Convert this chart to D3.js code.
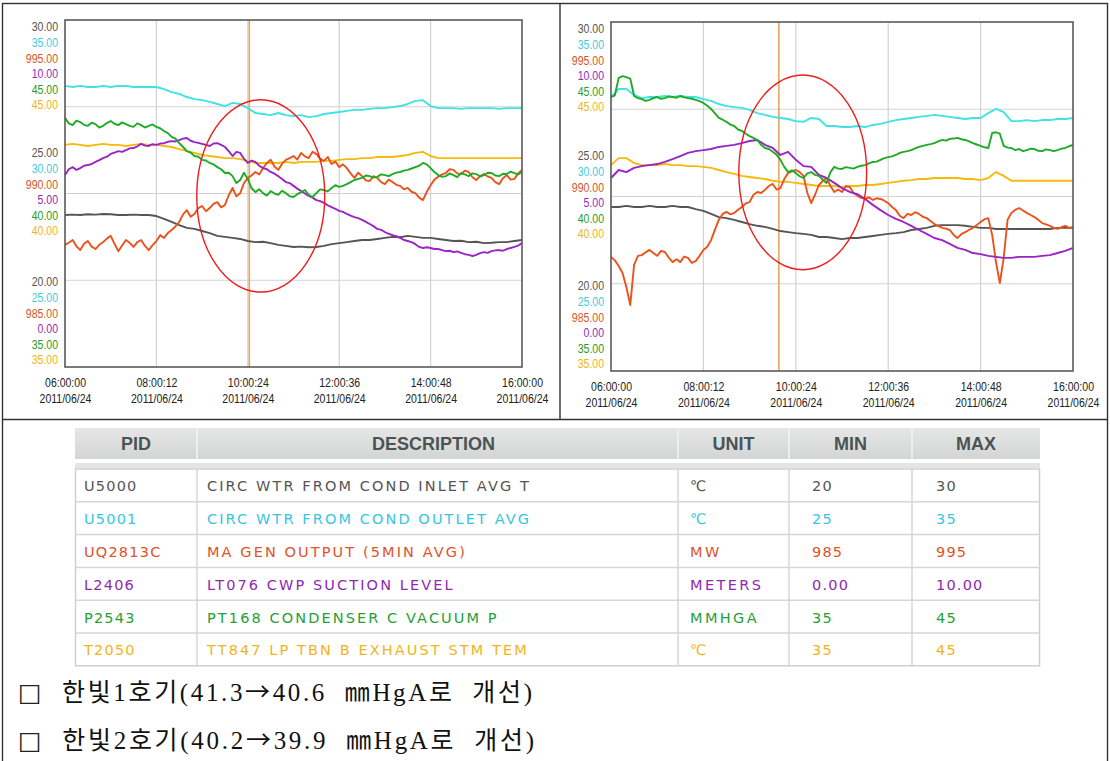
<!DOCTYPE html>
<html>
<head>
<meta charset="utf-8">
<script src="https://cdn.jsdelivr.net/npm/d3@7"></script>
<style>
  html, body { margin: 0; padding: 0; background: #fff; }
  svg { display: block; }
</style>
</head>
<body>
<svg id="fig" width="1110" height="761"></svg>
<script>
// ---------- tags shown in both trend charts ----------
const pids = ["U5000", "U5001", "UQ2813C", "L2406", "P2543", "T2050"];
const descriptions = [
  "CIRC WTR FROM COND INLET AVG T",
  "CIRC WTR FROM COND OUTLET AVG",
  "MA GEN OUTPUT (5MIN AVG)",
  "LT076 CWP SUCTION LEVEL",
  "PT168 CONDENSER C VACUUM P",
  "TT847 LP TBN B EXHAUST STM TEM"
];
const units = ["℃", "℃", "MW", "METERS", "MMHGA", "℃"];
const mins = [20, 25, 985, 0, 35, 35];
const maxs = [30, 35, 995, 10, 45, 45];

// ---------- time axis (minutes after 06:00; each series is evenly sampled over the span) ----------
const tickMinutes = [0, 120, 240, 360, 480, 600];
const timeLabels = ["06:00:00", "08:00:12", "10:00:24", "12:00:36", "14:00:48", "16:00:00"];
const dateLabel = "2011/06/24";
const spanMinutes = 600;

// ---------- unit 1 trend ----------
const u1_U5000 = [24.38,24.39,24.38,24.40,24.39,24.41,24.40,24.38,24.38,24.39,24.38,24.38,24.35,24.27,24.18,24.09,24.01,23.98,23.92,23.86,23.78,23.75,23.72,23.69,23.63,23.60,23.61,23.57,23.52,23.49,23.46,23.47,23.45,23.46,23.49,23.54,23.57,23.60,23.63,23.66,23.66,23.69,23.72,23.75,23.74,23.78,23.75,23.72,23.72,23.69,23.66,23.63,23.64,23.60,23.61,23.57,23.58,23.60,23.60,23.63,23.66];
const u1_U5001 = [33.10,33.07,33.10,33.07,33.07,33.10,33.07,33.10,33.10,33.07,33.07,33.07,33.07,33.01,32.92,32.87,32.78,32.72,32.69,32.64,32.58,32.52,32.61,32.58,32.46,32.32,32.29,32.26,32.32,32.26,32.23,32.26,32.20,32.23,32.29,32.32,32.35,32.38,32.41,32.41,32.44,32.46,32.46,32.49,32.52,32.58,32.67,32.69,32.52,32.46,32.46,32.46,32.44,32.46,32.46,32.46,32.46,32.44,32.46,32.46,32.46];
const u1_UQ2813C = [988.52,988.58,988.66,988.48,988.37,988.55,988.63,988.47,988.40,988.52,
  988.60,988.70,988.78,988.55,988.34,988.50,988.66,988.58,988.46,988.60,
  988.66,988.49,988.37,988.51,988.63,988.80,988.72,988.86,988.95,989.05,
  989.18,989.40,989.52,989.33,989.41,989.58,989.64,989.49,989.58,989.70,
  989.75,989.60,989.67,989.95,990.16,989.92,990.01,990.30,990.45,990.52,
  990.62,990.55,990.73,990.88,990.97,990.78,990.68,990.86,990.97,991.02,
  991.08,990.98,991.17,991.07,991.02,991.20,991.14,991.00,990.94,991.05,
  990.85,990.92,990.76,990.84,990.73,990.58,990.45,990.60,990.50,990.38,
  990.36,990.50,990.45,990.33,990.27,990.40,990.33,990.25,990.22,990.12,
  990.16,990.05,990.01,989.88,989.81,990.05,990.24,990.40,990.48,990.55,
  990.59,990.70,990.68,990.58,990.56,990.66,990.62,990.47,990.39,990.50,
  990.56,990.49,990.45,990.33,990.27,990.44,990.53,990.40,990.42,990.58,
  990.68];
const u1_L2406 = [5.53,5.70,5.76,5.68,5.73,5.80,5.82,5.85,5.91,5.96,
  6.02,6.06,6.14,6.18,6.22,6.20,6.25,6.30,6.31,6.36,
  6.43,6.38,6.37,6.42,6.40,6.44,6.45,6.49,6.51,6.50,
  6.54,6.58,6.60,6.52,6.48,6.46,6.43,6.40,6.37,6.44,
  6.45,6.40,6.34,6.22,6.08,6.20,6.17,6.00,5.88,5.95,
  5.91,5.80,5.73,5.70,5.62,5.57,5.50,5.42,5.33,5.30,
  5.22,5.14,5.07,5.00,4.93,4.88,4.81,4.78,4.73,4.66,
  4.61,4.56,4.50,4.47,4.41,4.36,4.32,4.29,4.24,4.18,
  4.12,4.06,3.98,3.95,3.89,3.84,3.80,3.77,3.72,3.66,
  3.63,3.60,3.54,3.46,3.43,3.45,3.43,3.40,3.40,3.37,
  3.34,3.35,3.31,3.33,3.29,3.25,3.23,3.20,3.23,3.28,
  3.31,3.29,3.34,3.36,3.37,3.35,3.40,3.43,3.46,3.50,
  3.57];
const u1_P2543 = [42.18,42.02,41.97,42.10,42.06,41.98,41.95,42.04,42.00,41.90,
  41.95,42.03,42.09,42.01,41.97,42.05,42.00,41.95,41.92,42.02,
  41.97,41.90,41.95,41.99,41.92,41.88,41.80,41.74,41.63,41.58,
  41.45,41.34,41.22,41.18,41.08,41.06,40.97,40.95,40.88,40.84,
  40.76,40.70,40.59,40.60,40.50,40.30,40.39,40.60,40.42,40.15,
  40.04,40.12,40.01,39.94,40.07,40.00,39.96,40.08,40.01,39.92,
  39.90,39.98,40.04,40.10,39.96,39.90,40.01,40.12,40.10,40.06,
  40.16,40.24,40.19,40.22,40.27,40.33,40.39,40.42,40.45,40.52,
  40.50,40.46,40.48,40.55,40.53,40.50,40.56,40.60,40.62,40.66,
  40.68,40.72,40.76,40.80,40.88,40.84,40.73,40.62,40.53,40.48,
  40.50,40.58,40.53,40.47,40.59,40.55,40.50,40.58,40.56,40.49,
  40.53,40.60,40.59,40.52,40.50,40.57,40.56,40.63,40.59,40.55,
  40.62];
const u1_T2050 = [41.40,41.43,41.40,41.37,41.40,41.43,41.40,41.40,41.37,41.40,41.43,41.40,41.40,41.37,41.34,41.28,41.22,41.17,41.11,41.08,41.05,41.02,41.02,40.99,40.94,40.88,40.88,40.88,40.88,40.91,40.88,40.91,40.91,40.91,40.94,40.94,40.97,40.99,40.99,41.02,41.02,41.05,41.05,41.05,41.08,41.11,41.17,41.20,41.08,41.02,41.02,41.02,41.02,41.02,41.02,41.02,41.02,41.02,41.02,41.02,41.02];

// ---------- unit 2 trend ----------
const u2_U5000 = [24.70,24.70,24.73,24.70,24.70,24.73,24.70,24.70,24.73,24.70,24.70,24.64,24.59,24.50,24.41,24.38,24.33,24.27,24.21,24.16,24.13,24.07,24.01,23.98,23.95,23.93,23.90,23.84,23.84,23.81,23.78,23.81,23.81,23.84,23.87,23.90,23.93,23.95,23.98,24.04,24.07,24.10,24.16,24.18,24.18,24.18,24.16,24.13,24.10,24.10,24.07,24.07,24.07,24.07,24.07,24.07,24.07,24.07,24.10,24.10,24.10];
const u2_U5001 = [32.85,33.08,33.08,32.91,32.82,32.85,32.85,32.88,32.85,32.88,32.85,32.85,32.79,32.74,32.65,32.59,32.56,32.54,32.48,32.39,32.34,32.28,32.25,32.22,32.16,32.14,32.25,32.22,32.02,32.02,31.99,31.99,32.02,31.99,32.05,32.08,32.14,32.19,32.22,32.25,32.28,32.31,32.34,32.31,32.28,32.25,32.22,32.25,32.25,32.39,32.51,32.42,32.16,32.16,32.19,32.16,32.19,32.19,32.22,32.22,32.25];
const u2_UQ2813C = [988.27,988.17,988.01,987.81,987.40,986.89,988.04,988.30,988.32,988.40,
  988.47,988.38,988.30,988.44,988.41,988.25,988.12,988.20,988.12,988.28,
  988.24,988.10,988.15,988.30,988.47,988.56,988.75,989.05,989.33,989.50,
  989.56,989.49,989.53,989.62,989.70,989.80,989.84,990.05,990.13,990.10,
  990.19,990.30,990.36,990.20,990.24,990.50,990.67,990.72,990.76,990.70,
  990.59,990.10,989.81,990.05,990.33,990.45,990.53,990.30,990.13,990.20,
  990.13,990.30,990.27,990.10,990.02,989.96,989.93,989.98,989.90,989.95,
  989.93,989.88,989.81,989.70,989.61,989.45,989.38,989.50,989.47,989.55,
  989.50,989.42,989.38,989.30,989.21,989.16,989.10,989.08,989.04,988.90,
  988.81,988.92,988.98,989.04,989.10,989.18,989.27,989.35,989.38,988.90,
  988.12,987.52,988.24,989.33,989.53,989.62,989.67,989.60,989.53,989.47,
  989.41,989.33,989.24,989.20,989.16,989.10,989.07,989.12,989.16,989.10,
  989.13];
const u2_L2406 = [5.53,5.76,5.70,5.82,5.87,5.90,5.93,5.99,6.07,6.16,6.25,6.30,6.33,6.36,6.42,6.45,6.48,6.53,6.59,6.62,6.48,6.39,6.19,6.28,6.05,5.87,5.85,5.62,5.53,5.39,5.24,5.13,5.07,4.93,4.76,4.61,4.47,4.36,4.27,4.16,4.04,3.93,3.81,3.75,3.64,3.53,3.47,3.38,3.35,3.30,3.27,3.24,3.24,3.27,3.27,3.27,3.30,3.32,3.38,3.44,3.53];
const u2_P2543 = [42.85,42.90,43.40,43.45,43.42,43.38,42.88,42.82,42.79,42.74,
  42.77,42.82,42.85,42.80,42.82,42.87,42.85,42.83,42.88,42.84,
  42.82,42.80,42.77,42.73,42.68,42.60,42.51,42.38,42.25,42.20,
  42.14,42.06,42.02,41.92,41.88,41.80,41.73,41.68,41.62,41.48,
  41.39,41.36,41.28,41.20,41.05,40.85,40.70,40.75,40.67,40.58,
  40.53,40.66,40.70,40.62,40.59,40.48,40.39,40.70,40.85,40.80,
  40.79,40.84,40.82,40.80,40.85,40.88,40.90,40.95,40.99,41.00,
  41.05,41.10,41.13,41.15,41.19,41.25,41.28,41.30,41.33,41.38,
  41.42,41.45,41.48,41.50,41.53,41.58,41.62,41.60,41.65,41.66,
  41.68,41.64,41.62,41.58,41.53,41.49,41.45,41.41,41.39,41.82,
  41.84,41.80,41.45,41.40,41.39,41.33,41.36,41.30,41.33,41.37,
  41.36,41.31,41.30,41.35,41.33,41.30,41.33,41.37,41.39,41.44,
  41.48];
const u2_T2050 = [40.90,41.10,41.10,40.96,40.90,40.90,40.90,40.93,40.90,40.90,40.87,40.87,40.85,40.82,40.76,40.70,40.65,40.59,40.56,40.53,40.50,40.45,40.42,40.42,40.39,40.36,40.33,40.30,40.30,40.30,40.27,40.30,40.30,40.33,40.33,40.36,40.39,40.42,40.45,40.47,40.50,40.50,40.53,40.53,40.53,40.53,40.50,40.50,40.47,40.53,40.70,40.59,40.45,40.45,40.45,40.45,40.45,40.45,40.45,40.45,40.45];

// cursor position (minutes after 06:00)
const u1_cursor = 242;
const u2_cursor = 218;

// summary lines below the table: unit, vacuum before, vacuum after
const noteUnits  = ["한빛1호기", "한빛2호기"];
const noteBefore = ["41.3", "40.2"];
const noteAfter  = ["40.6", "39.9"];

// ---------- styles ----------
const lineColors  = ["#555555", "#3fe3e3", "#ec531c", "#9a24c6", "#1eab26", "#f6b90c"];
const labelColors = ["#555555", "#3ccde0", "#d2582a", "#8f2cb8", "#2a9a2a", "#f0b41a"];
const rowColors   = ["#555555", "#38c6de", "#e0522a", "#9028b2", "#26a036", "#f2b41a"];
const drawOrder   = [5, 1, 0, 2, 3, 4];

const svg = d3.select("#fig");

function condensed(parent, x, y, str, anchor, fill, size) {
  return parent.append("text")
    .attr("transform", `translate(${x},${y}) scale(0.78,1)`)
    .attr("text-anchor", anchor)
    .attr("dominant-baseline", "central")
    .attr("font-family", "'Liberation Sans', Arial, sans-serif")
    .attr("font-size", size || 13)
    .attr("fill", fill)
    .text(str);
}

function drawChart(box, seriesList, cursorMin, ell) {
  const g = svg.append("g");
  const x = d3.scaleLinear().domain([0, spanMinutes]).range([box.left, box.right]);
  const frac = d3.scaleLinear().domain([0, 1]).range([box.bottom, box.top]);

  // grid
  g.selectAll("line.hgrid").data([0.25, 0.5, 0.75]).join("line")
    .attr("class", "hgrid")
    .attr("x1", box.left).attr("x2", box.right)
    .attr("y1", d => frac(d)).attr("y2", d => frac(d))
    .attr("stroke", "#d2d2d2").attr("stroke-width", 1.2);
  g.selectAll("line.vgrid").data(tickMinutes.slice(1, -1)).join("line")
    .attr("class", "vgrid")
    .attr("x1", d => x(d)).attr("x2", d => x(d))
    .attr("y1", box.top).attr("y2", box.bottom)
    .attr("stroke", "#d2d2d2").attr("stroke-width", 1.2);

  // cursor
  g.append("line")
    .attr("x1", x(cursorMin)).attr("x2", x(cursorMin))
    .attr("y1", box.top).attr("y2", box.bottom)
    .attr("stroke", "#e8a55a").attr("stroke-width", 1.6);

  // series, each on its own min..max scale
  drawOrder.forEach(k => {
    const vals = seriesList[k];
    const y = d3.scaleLinear().domain([mins[k], maxs[k]]).range([box.bottom, box.top]);
    const step = spanMinutes / (vals.length - 1);
    g.append("path")
      .datum(vals)
      .attr("d", d3.line().x((d, i) => x(i * step)).y(d => y(d)))
      .attr("fill", "none")
      .attr("stroke", lineColors[k])
      .attr("stroke-width", 1.9)
      .attr("stroke-linejoin", "round");
  });

  // plot frame
  g.append("rect")
    .attr("x", box.left).attr("y", box.top)
    .attr("width", box.right - box.left).attr("height", box.bottom - box.top)
    .attr("fill", "none").attr("stroke", "#5a5a5a").attr("stroke-width", 1.6);

  // highlight ellipse
  g.append("ellipse")
    .attr("cx", x(ell.t)).attr("cy", frac(ell.f))
    .attr("rx", x(ell.t + ell.dt) - x(ell.t))
    .attr("ry", (box.bottom - box.top) * ell.df)
    .attr("fill", "none").attr("stroke", "#f01c1c").attr("stroke-width", 1.4);

  // y labels: one stack at the top, middle and bottom of the range
  const lh = 15.6;
  const lx = box.left - 7;
  const levels = [
    { f: 1,   y0: box.top + 7 },
    { f: 0.5, y0: (box.top + box.bottom) / 2 - 1.5 - 2.5 * lh },
    { f: 0,   y0: box.bottom - 7 - 5 * lh }
  ];
  levels.forEach(lv => {
    pids.forEach((p, k) => {
      const v = mins[k] + (maxs[k] - mins[k]) * lv.f;
      condensed(g, lx, lv.y0 + k * lh, d3.format(".2f")(v), "end", labelColors[k], 13.5);
    });
  });

  // time axis
  const axis = d3.axisBottom(x).tickValues(tickMinutes).tickSize(0).tickFormat("");
  const ax = g.append("g").attr("transform", `translate(0,${box.bottom})`).call(axis);
  ax.select(".domain").remove();
  ax.selectAll(".tick").each(function (d, i) {
    const t = d3.select(this);
    t.select("text").remove();
    condensed(t, 0, 16, timeLabels[i], "middle", "#222", 13.5);
    condensed(t, 0, 32, dateLabel, "middle", "#222", 13.5);
  });
}

// ---------- outer frame ----------
svg.append("rect").attr("x", 2.5).attr("y", 3.5).attr("width", 1105).attr("height", 800)
  .attr("fill", "none").attr("stroke", "#333").attr("stroke-width", 1.4);
svg.append("line").attr("x1", 560).attr("x2", 560).attr("y1", 3.5).attr("y2", 419.5)
  .attr("stroke", "#333").attr("stroke-width", 1.4);
svg.append("line").attr("x1", 2.5).attr("x2", 1107.5).attr("y1", 419.5).attr("y2", 419.5)
  .attr("stroke", "#333").attr("stroke-width", 1.4);

// ---------- charts ----------
drawChart({ left: 65, right: 522, top: 20, bottom: 367 },
  [u1_U5000, u1_U5001, u1_UQ2813C, u1_L2406, u1_P2543, u1_T2050],
  u1_cursor, { t: 257, dt: 84, f: 0.493, df: 0.277 });
drawChart({ left: 611, right: 1073, top: 22, bottom: 371 },
  [u2_U5000, u2_U5001, u2_UQ2813C, u2_L2406, u2_P2543, u2_T2050],
  u2_cursor, { t: 249, dt: 83, f: 0.569, df: 0.279 });

// ---------- tag table ----------
const tbl = svg.append("g");
const colEdges = [75, 197, 678, 789, 912, 1040];
const headers = ["PID", "DESCRIPTION", "UNIT", "MIN", "MAX"];
const grad = svg.append("defs").append("linearGradient")
  .attr("id", "hdr").attr("x1", 0).attr("x2", 0).attr("y1", 0).attr("y2", 1);
grad.append("stop").attr("offset", 0).attr("stop-color", "#e6e6e6");
grad.append("stop").attr("offset", 1).attr("stop-color", "#d3d5d5");

tbl.append("rect").attr("x", colEdges[0]).attr("y", 428).attr("width", colEdges[5] - colEdges[0]).attr("height", 31)
  .attr("fill", "url(#hdr)");
tbl.selectAll("line.hsep").data(colEdges.slice(1, -1)).join("line")
  .attr("x1", d => d).attr("x2", d => d).attr("y1", 429).attr("y2", 459)
  .attr("stroke", "#f4f4f4").attr("stroke-width", 1.5);
tbl.selectAll("text.hdr").data(headers).join("text")
  .attr("x", (d, i) => (colEdges[i] + colEdges[i + 1]) / 2 - (i === 1 ? 4 : 0))
  .attr("y", 443.5)
  .attr("text-anchor", "middle").attr("dominant-baseline", "central")
  .attr("font-family", "'Liberation Sans', Arial, sans-serif")
  .attr("font-weight", "bold").attr("font-size", 18)
  .attr("fill", "#4c5353")
  .text(d => d);

const rowTop = 469, rowH = 32.8;
tbl.append("rect").attr("x", colEdges[0]).attr("y", 463).attr("width", colEdges[5] - colEdges[0]).attr("height", 5)
  .attr("fill", "#e4e4e4");
tbl.append("rect").attr("x", colEdges[0] + 0.5).attr("y", rowTop).attr("width", colEdges[5] - colEdges[0] - 1)
  .attr("height", rowH * 6).attr("fill", "#fff").attr("stroke", "#cfcfcf").attr("stroke-width", 1.5);
tbl.selectAll("line.rsep").data(d3.range(1, 6)).join("line")
  .attr("x1", colEdges[0]).attr("x2", colEdges[5])
  .attr("y1", d => rowTop + d * rowH).attr("y2", d => rowTop + d * rowH)
  .attr("stroke", "#d6d6d6").attr("stroke-width", 1.5);
tbl.selectAll("line.csep").data(colEdges.slice(1, -1)).join("line")
  .attr("x1", d => d).attr("x2", d => d).attr("y1", rowTop).attr("y2", rowTop + 6 * rowH)
  .attr("stroke", "#d6d6d6").attr("stroke-width", 1.5);

const cellX = [84, 207, 690, 812, 936];
const cellSpacing = [1.2, 2.1, 2.4, 1.2, 1.2];
pids.forEach((p, k) => {
  const fmt = units[k] === "METERS" ? d3.format(".2f") : d3.format("d");
  const cells = [p, descriptions[k], units[k], fmt(mins[k]), fmt(maxs[k])];
  cells.forEach((c, j) => {
    tbl.append("text")
      .attr("x", cellX[j]).attr("y", rowTop + k * rowH + rowH / 2 + 1)
      .attr("dominant-baseline", "central")
      .attr("font-family", "'DejaVu Sans', Verdana, sans-serif")
      .attr("font-size", 14.5)
      .attr("letter-spacing", cellSpacing[j])
      .attr("fill", rowColors[k])
      .text(c);
  });
});

// ---------- notes ----------
const cjk = "'Noto Sans CJK KR', sans-serif";
noteUnits.forEach((u, i) => {
  const t = svg.append("text")
    .attr("x", 18).attr("y", 701 + i * 48)
    .attr("font-family", "'Liberation Serif', 'Noto Sans CJK KR', serif")
    .attr("font-size", 25)
    .attr("fill", "#111")
    .attr("textLength", i === 0 ? 514 : 516)
    .attr("lengthAdjust", "spacing")
    .style("white-space", "pre");
  t.append("tspan").attr("font-family", "'DejaVu Sans', sans-serif").attr("fill", "#222").text("□");
  t.append("tspan").text(`  ${u}(${noteBefore[i]}`);
  t.append("tspan").attr("font-family", cjk).text("→");
  t.append("tspan").text(`${noteAfter[i]}  ㎜HgA로  개선)`);
});
</script>
</body>
</html>
